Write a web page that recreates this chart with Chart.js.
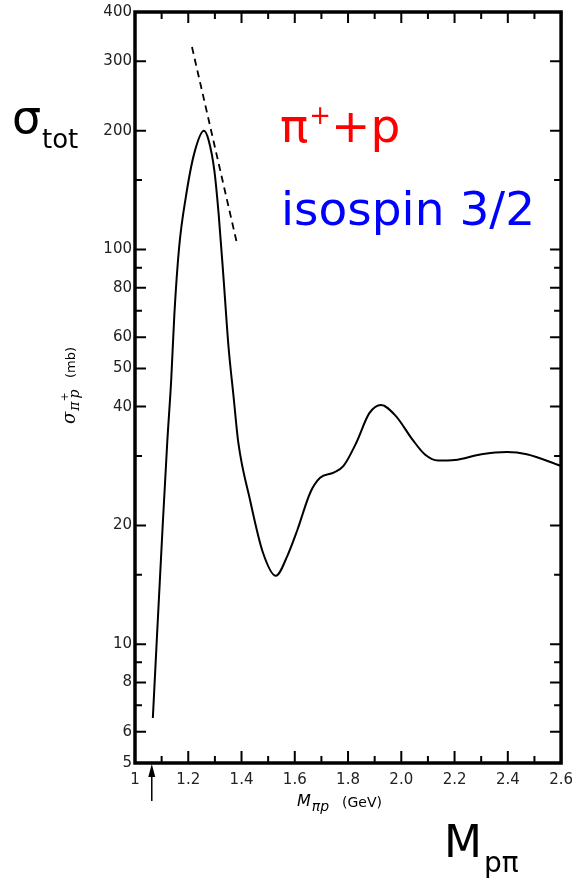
<!DOCTYPE html>
<html>
<head>
<meta charset="utf-8">
<script src="https://cdn.jsdelivr.net/npm/chart.js@4.4.1/dist/chart.umd.min.js"></script>
<style>
  html, body { margin: 0; padding: 0; background: #fff; }
  #wrap { width: 581px; height: 878px; }
</style>
</head>
<body>
<div id="wrap"><canvas id="sigmaChart" width="581" height="878"></canvas></div>
<script>
// pi+ p total cross section
const massGeV = [1.067, 1.081, 1.104, 1.121, 1.136, 1.148, 1.166, 1.191, 1.222, 1.259, 1.277, 1.298,
  1.314, 1.333, 1.351, 1.370, 1.388, 1.432, 1.480, 1.529, 1.573, 1.610, 1.658, 1.695, 1.746,
  1.783, 1.831, 1.880, 1.924, 1.979, 2.042, 2.090, 2.138, 2.201, 2.301, 2.397, 2.471, 2.600];
const sigmaMb = [6.5, 10, 20, 32.4, 46.8, 68.9, 101.8, 136, 174.8, 200, 188.8, 158.6,
  123.3, 83.7, 56.9, 42.5, 32.4, 23.2, 17.1, 14.9, 16.8, 19.5, 24.2, 26.4, 27.2,
  28.3, 32.4, 38.5, 40.4, 37.9, 33.0, 30.2, 29.2, 29.3, 30.3, 30.7, 30.3, 28.3];

// dashed line near the peak
const dashMass = [1.214, 1.381];
const dashSigma = [326, 105];

// threshold arrow under the axis
const thresholdMass = 1.063;

// axes
const xTickValues = [1.0, 1.1, 1.2, 1.3, 1.4, 1.5, 1.6, 1.7, 1.8, 1.9, 2.0, 2.1, 2.2, 2.3, 2.4, 2.5, 2.6];
const xLabelValues = [1.0, 1.2, 1.4, 1.6, 1.8, 2.0, 2.2, 2.4, 2.6];
const xLabelTexts = ['1', '1.2', '1.4', '1.6', '1.8', '2.0', '2.2', '2.4', '2.6'];
const yTickValues = [5, 6, 7, 8, 9, 10, 15, 20, 30, 40, 50, 60, 70, 80, 90, 100, 150, 200, 300, 400];
const yLabelValues = [5, 6, 8, 10, 20, 40, 50, 60, 80, 100, 200, 300, 400];

const near = (a, b) => Math.abs(a - b) < 1e-6;
const xLabelFor = v => {
  const i = xLabelValues.findIndex(l => near(l, v));
  return i >= 0 ? xLabelTexts[i] : '';
};
const isYLabel = v => yLabelValues.some(l => near(l, v));

// inward ticks, frame, arrow and the extra texts
const decorations = {
  id: 'decorations',
  afterDraw(chart) {
    const { ctx, chartArea: a, scales } = chart;
    const xs = scales.x, ys = scales.y;
    ctx.save();
    ctx.strokeStyle = '#000';
    ctx.fillStyle = '#000';

    ctx.lineWidth = 2;
    xTickValues.forEach(v => {
      const px = xs.getPixelForValue(v);
      const major = xLabelValues.some(l => near(l, v));
      ctx.beginPath();
      ctx.moveTo(px, a.bottom);
      ctx.lineTo(px, a.bottom - (major ? 12 : 7));
      ctx.moveTo(px, a.top);
      ctx.lineTo(px, a.top + (major ? 11 : 7));
      ctx.stroke();
    });
    yTickValues.forEach(v => {
      const py = ys.getPixelForValue(v);
      const len = isYLabel(v) ? 11 : 7;
      ctx.beginPath();
      ctx.moveTo(a.left, py);
      ctx.lineTo(a.left + len, py);
      ctx.moveTo(a.right, py);
      ctx.lineTo(a.right - len, py);
      ctx.stroke();
    });

    ctx.lineWidth = 3.5;
    ctx.strokeRect(a.left, a.top, a.right - a.left, a.bottom - a.top);

    // arrow
    const ax = xs.getPixelForValue(thresholdMass);
    ctx.lineWidth = 1.5;
    ctx.beginPath();
    ctx.moveTo(ax, a.bottom + 38);
    ctx.lineTo(ax, a.bottom + 8);
    ctx.stroke();
    ctx.beginPath();
    ctx.moveTo(ax, a.bottom + 1);
    ctx.lineTo(ax - 3.5, a.bottom + 14);
    ctx.lineTo(ax + 3.5, a.bottom + 14);
    ctx.closePath();
    ctx.fill();

    // x axis title
    ctx.textBaseline = 'alphabetic';
    ctx.textAlign = 'left';
    let x = 297;
    ctx.font = 'italic 16px "DejaVu Sans"';
    ctx.fillText('M', x, 806);
    x += ctx.measureText('M').width + 1;
    ctx.font = 'italic 14px "DejaVu Sans"';
    ctx.fillText('πp', x, 811);
    ctx.font = '14px "DejaVu Sans"';
    ctx.fillText('(GeV)', 342, 807);

    // y axis title, rotated
    ctx.save();
    ctx.translate(75, 424);
    ctx.rotate(-Math.PI / 2);
    x = 0;
    ctx.font = 'italic 18px "DejaVu Serif"';
    ctx.fillText('σ', x, 0);
    x += ctx.measureText('σ').width + 1;
    ctx.font = 'italic 14px "DejaVu Serif"';
    ctx.fillText('π', x, 4);
    x += ctx.measureText('π').width;
    ctx.font = '11px "DejaVu Sans"';
    ctx.fillText('+', x, -7);
    ctx.font = 'italic 14px "DejaVu Serif"';
    ctx.fillText('p', x + 3, 4);
    ctx.font = '13px "DejaVu Sans"';
    ctx.fillText('(mb)', 77 - ctx.measureText('(mb)').width, 0);
    ctx.restore();

    // big labels
    ctx.font = '46px "DejaVu Sans"';
    ctx.fillText('σ', 12, 133);
    ctx.font = '26px "DejaVu Sans"';
    ctx.fillText('tot', 42, 148);

    ctx.fillStyle = '#ff0000';
    x = 280;
    ctx.font = '47px "DejaVu Sans"';
    ctx.fillText('π', x, 142);
    x += ctx.measureText('π').width + 1;
    ctx.font = '26px "DejaVu Sans"';
    ctx.fillText('+', x, 124);
    x += ctx.measureText('+').width;
    ctx.font = '47px "DejaVu Sans"';
    ctx.fillText('+p', x, 142);

    ctx.fillStyle = '#0000ff';
    ctx.font = '47px "DejaVu Sans"';
    ctx.fillText('isospin 3/2', 281, 225);

    ctx.fillStyle = '#000';
    ctx.font = '44px "DejaVu Sans"';
    ctx.fillText('M', 444, 857);
    ctx.font = '28px "DejaVu Sans"';
    ctx.fillText('pπ', 484, 872);

    ctx.restore();
  }
};

const curve = massGeV.map((m, i) => ({ x: m, y: sigmaMb[i] }));
const dashed = dashMass.map((m, i) => ({ x: m, y: dashSigma[i] }));

new Chart(document.getElementById('sigmaChart'), {
  type: 'line',
  data: {
    datasets: [
      {
        data: curve,
        borderColor: '#000',
        borderWidth: 2,
        pointRadius: 0,
        cubicInterpolationMode: 'monotone',
        fill: false
      },
      {
        data: dashed,
        borderColor: '#000',
        borderWidth: 1.8,
        borderDash: [7, 5],
        pointRadius: 0,
        fill: false
      }
    ]
  },
  options: {
    responsive: false,
    animation: false,
    layout: { padding: { top: 11, right: 13, left: 0, bottom: 0 } },
    plugins: { legend: { display: false }, tooltip: { enabled: false } },
    scales: {
      x: {
        type: 'linear',
        min: 1,
        max: 2.6,
        grid: { display: false, drawTicks: false },
        border: { display: false },
        afterBuildTicks: s => { s.ticks = xTickValues.map(v => ({ value: v })); },
        afterFit: s => { s.height = 115; },
        ticks: {
          autoSkip: false,
          maxRotation: 0,
          padding: 8,
          color: '#222',
          font: { family: 'DejaVu Sans', size: 15 },
          callback: v => xLabelFor(v)
        }
      },
      y: {
        type: 'logarithmic',
        min: 5,
        max: 400,
        grid: { display: false, drawTicks: false },
        border: { display: false },
        afterBuildTicks: s => { s.ticks = yTickValues.map(v => ({ value: v })); },
        afterFit: s => { s.width = 135; },
        ticks: {
          autoSkip: false,
          padding: 3,
          color: '#222',
          font: { family: 'DejaVu Sans', size: 15 },
          callback: v => (isYLabel(v) ? String(v) : '')
        }
      }
    }
  },
  plugins: [decorations]
});
</script>
</body>
</html>
